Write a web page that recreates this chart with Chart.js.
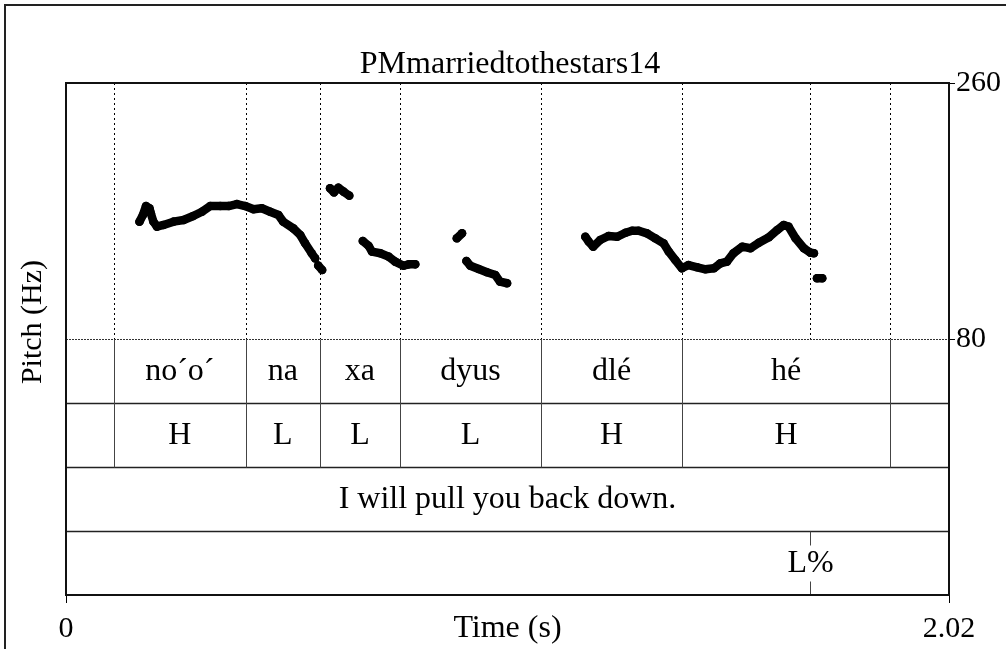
<!DOCTYPE html>
<html>
<head>
<meta charset="utf-8">
<script src="https://cdn.jsdelivr.net/npm/chart.js@4"></script>
<style>
  html, body { margin: 0; padding: 0; background: #fff; }
  #wrap { width: 1006px; height: 649px; }
</style>
</head>
<body>
<div id="wrap"><canvas id="chart"></canvas></div>
<script>
// ==================== DATOS ====================
// pitch track (s, Hz); null = hueco entre tramos
const pitchTime = [
  0.168, 0.176, 0.183, 0.191, 0.194, 0.200, 0.208, 0.223, 0.246, 0.269, 0.291, 0.311, 0.330, 0.353,
  0.372, 0.391, 0.410, 0.429, 0.448, 0.467, 0.486, 0.497, 0.520, 0.536, 0.547, 0.562, 0.570, null,
  0.577, 0.586, null,
  0.604, 0.613, 0.623, 0.635, 0.648, null,
  0.679, 0.692, 0.700, 0.719, 0.738, 0.753, 0.772, 0.784, 0.799, null,
  0.894, 0.906, null,
  0.916, 0.925, 0.944, 0.963, 0.982, 0.993, 1.009, null,
  1.188, 1.196, 1.206, 1.222, 1.241, 1.261, 1.280, 1.295, 1.310, 1.329, 1.348, 1.367, 1.379, 1.394,
  1.409, 1.424, 1.444, 1.463, 1.482, 1.497, 1.512, 1.527, 1.547, 1.566, 1.585, 1.608, 1.627, 1.642,
  1.653, 1.669, 1.688, 1.703, 1.711, null,
  1.718, 1.730
];
const pitchHz = [
  162.5, 167.2, 173.5, 171.9, 168.4, 162.5, 159.0, 160.2, 162.5, 163.7, 166.5, 169.5, 173.5, 173.5,
  173.5, 174.9, 173.5, 171.2, 171.9, 169.5, 167.2, 162.5, 157.8, 153.1, 147.3, 140.3, 136.7, null,
  131.7, 128.5, null,
  186.0, 183.1, 186.4, 183.6, 180.8, null,
  148.9, 145.6, 141.4, 140.3, 137.9, 134.4, 131.5, 132.5, 132.5, null,
  150.8, 154.3, null,
  134.8, 131.5, 129.2, 126.9, 125.0, 120.3, 119.2, null,
  151.9, 148.4, 144.9, 149.6, 152.4, 151.9, 154.7, 156.1, 156.1, 154.3, 150.8, 147.3, 141.4, 135.5,
  129.7, 132.0, 130.4, 129.0, 129.7, 133.2, 134.4, 140.3, 144.9, 143.8, 147.7, 151.5, 156.6, 160.2,
  159.0, 150.8, 143.8, 140.7, 140.3, null,
  122.7, 122.7
];

// tiers
const syllableBounds = [0.110, 0.411, 0.581, 0.764, 1.087, 1.409, 1.886];
const syllableLabels = ['no\u00B4o\u00B4', 'na', 'xa', 'dyus', 'dlé', 'hé'];
const toneLabels = ['H', 'L', 'L', 'L', 'H', 'H'];
const sentenceLabel = 'I will pull you back down.';
const boundaryTimes = [1.703];
const boundaryLabels = ['L%'];

// ejes
const xTicks = [0, 2.02];
const yTicks = [80, 260];
const titleText = 'PMmarriedtothestars14';
const xTitle = 'Time (s)';
const yTitle = 'Pitch (Hz)';

const FONT = '"Liberation Serif", "Times New Roman", serif';
const SIZE = 32;      // textos
const NUM_SIZE = 30;  // numeros de ejes

// ==================== PLUGIN TIERS ====================
function line(ctx, x1, y1, x2, y2) {
  ctx.beginPath(); ctx.moveTo(x1, y1); ctx.lineTo(x2, y2); ctx.stroke();
}

const tierPlugin = {
  id: 'tiers',
  beforeDraw(chart) {
    const ctx = chart.ctx;
    ctx.save();
    ctx.strokeStyle = '#222';
    ctx.lineWidth = 2;
    ctx.beginPath();
    ctx.moveTo(5, chart.height); ctx.lineTo(5, 5); ctx.lineTo(chart.width, 5);
    ctx.stroke();
    ctx.restore();
  },
  beforeDatasetsDraw(chart) {
    const { ctx, scales: { x, y } } = chart;
    ctx.save();
    ctx.strokeStyle = '#000';
    ctx.lineWidth = 1;
    ctx.setLineDash([2, 3]);
    [...syllableBounds, ...boundaryTimes].forEach(t => {
      const px = Math.round(x.getPixelForValue(t)) + 0.5;
      line(ctx, px, y.top, px, y.bottom);
    });
    ctx.restore();
  },
  afterDraw(chart) {
    const { ctx, chartArea: a, scales: { x, tier } } = chart;
    const rowY = v => Math.round(tier.getPixelForValue(v)) + 0.5;
    ctx.save();

    // linea pitch / tiers
    ctx.strokeStyle = '#333';
    ctx.lineWidth = 1;
    ctx.setLineDash([2, 1]);
    line(ctx, a.left, rowY(0), a.right, rowY(0));
    ctx.setLineDash([]);

    // lineas entre tiers
    ctx.strokeStyle = '#222';
    ctx.lineWidth = 1.5;
    [1, 2, 3].forEach(v => line(ctx, a.left, rowY(v), a.right, rowY(v)));

    // limites de intervalos (tiers 1 y 2)
    ctx.strokeStyle = '#444';
    ctx.lineWidth = 1;
    syllableBounds.forEach(t => {
      const px = Math.round(x.getPixelForValue(t)) + 0.5;
      line(ctx, px, rowY(0), px, rowY(2));
    });

    // textos de tiers
    ctx.fillStyle = '#000';
    ctx.font = `${SIZE}px ${FONT}`;
    ctx.textAlign = 'center';
    ctx.textBaseline = 'middle';
    const mid = v => tier.getPixelForValue(v + 0.5) + 1;
    for (let i = 0; i < syllableLabels.length; i++) {
      const cx = (x.getPixelForValue(syllableBounds[i]) + x.getPixelForValue(syllableBounds[i + 1])) / 2;
      ctx.fillText(syllableLabels[i], cx, mid(0));
      ctx.fillText(toneLabels[i], cx, mid(1));
    }
    ctx.fillText(sentenceLabel, (a.left + a.right) / 2, mid(2));

    // tier de puntos
    ctx.strokeStyle = '#444';
    boundaryTimes.forEach((t, i) => {
      const px = Math.round(x.getPixelForValue(t)) + 0.5;
      line(ctx, px, rowY(3), px, rowY(3) + 14);
      line(ctx, px, rowY(4) - 14, px, rowY(4));
      ctx.fillText(boundaryLabels[i], px, mid(3));
    });

    // marco
    ctx.strokeStyle = '#111';
    ctx.lineWidth = 2;
    ctx.strokeRect(a.left, a.top, a.right - a.left, a.bottom - a.top);

    // titulos
    ctx.textBaseline = 'alphabetic';
    ctx.fillText(titleText, 510, 73);
    ctx.fillText(xTitle, (a.left + a.right) / 2, 637);
    ctx.font = `${NUM_SIZE}px ${FONT}`;
    ctx.translate(41, 322);
    ctx.rotate(-Math.PI / 2);
    ctx.fillText(yTitle, 0, 0);
    ctx.restore();
  }
};

// ==================== GRAFICO ====================
const points = pitchTime.map((t, i) => ({ x: t, y: pitchHz[i] }));

new Chart(document.getElementById('chart'), {
  type: 'scatter',
  data: {
    datasets: [{
      data: points,
      showLine: true,
      spanGaps: false,
      borderColor: '#000',
      backgroundColor: '#000',
      borderWidth: 8.5,
      pointRadius: 4.3,
      pointBorderWidth: 0,
      pointHoverRadius: 4.3,
      borderCapStyle: 'round',
      borderJoinStyle: 'round'
    }]
  },
  options: {
    responsive: true,
    maintainAspectRatio: false,
    animation: false,
    events: [],
    layout: { padding: { left: 66, top: 83, right: 0, bottom: 0 } },
    plugins: { legend: { display: false }, tooltip: { enabled: false } },
    scales: {
      x: {
        type: 'linear', position: 'bottom', min: 0, max: 2.02,
        afterBuildTicks: s => { s.ticks = xTicks.map(v => ({ value: v })); },
        ticks: { callback: v => String(v), color: '#000', font: { family: FONT, size: NUM_SIZE }, maxRotation: 0, padding: 8 },
        grid: { drawOnChartArea: false, tickLength: 8, color: '#000', lineWidth: 1 },
        border: { display: false },
        afterFit: s => { s.height = 54; }
      },
      y: {
        type: 'linear', position: 'right', stack: 'v', stackWeight: 1, min: 80, max: 260,
        afterBuildTicks: s => { s.ticks = yTicks.map(v => ({ value: v })); },
        ticks: { callback: v => String(v), color: '#000', font: { family: FONT, size: NUM_SIZE }, padding: 1 },
        grid: { drawOnChartArea: false, tickLength: 6, color: '#000', lineWidth: 1 },
        border: { display: false },
        afterFit: s => { s.width = 57; }
      },
      tier: {
        type: 'linear', position: 'right', stack: 'v', stackWeight: 1, min: 0, max: 4, reverse: true,
        ticks: { display: false },
        grid: { display: false },
        border: { display: false },
        afterFit: s => { s.width = 57; }
      }
    }
  },
  plugins: [tierPlugin]
});
</script>
</body>
</html>
